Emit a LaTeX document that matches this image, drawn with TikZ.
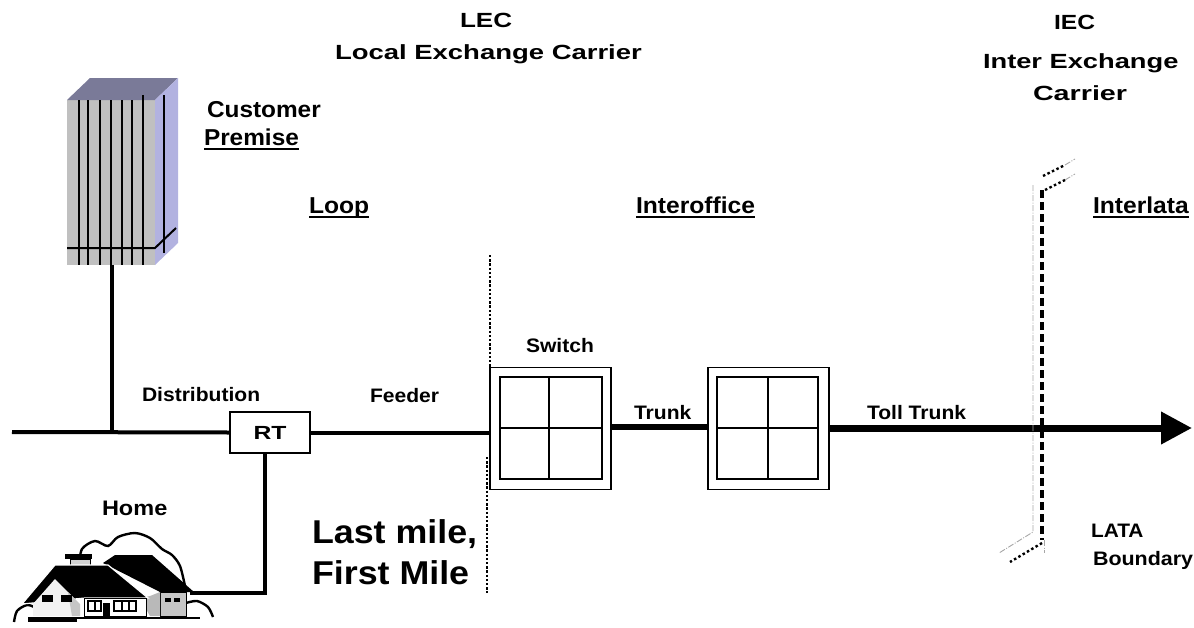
\documentclass[tikz,border=0pt]{standalone}
\usepackage{fontspec}
\setmainfont{Liberation Sans}
\usepackage{graphicx}
\usetikzlibrary{arrows.meta}
\definecolor{frontgray}{RGB}{192,192,192}
\definecolor{topcol}{RGB}{122,122,152}
\definecolor{sidecol}{RGB}{178,178,224}
\newcommand{\mytext}[3]{\scalebox{#2}[1]{\fontsize{#1}{#1}\selectfont\bfseries #3}}
\begin{document}
\begin{tikzpicture}[x=1pt,y=-1pt,
  lbl/.style={inner sep=0pt, outer sep=0pt, anchor=base west},
  wire/.style={line width=4pt},
  trunkline/.style={line width=6pt},
  switchbox/.style={draw, line width=1.6pt, minimum width=121pt, minimum height=122pt, inner sep=0pt, outer sep=0pt},
  rtbox/.style={draw, line width=1.4pt, minimum width=80pt, minimum height=41pt, inner sep=0pt, outer sep=0pt},
  inner/.style={line width=2.2pt},
  uline/.style={line width=2pt},
  dotline/.style={line width=2.6pt, dash pattern=on 2.4pt off 1.8pt},
  bounddash/.style={line width=3.6pt, dash pattern=on 8pt off 4pt},
  bounddot/.style={line width=2.4pt, dash pattern=on 2.5pt off 2.5pt},
  boundgrey/.style={line width=0.9pt, gray!70, dash pattern=on 6pt off 1.5pt on 1pt off 1.5pt},
  bldline/.style={line width=2pt},
  houseline/.style={line width=2.4pt}
]
\useasboundingbox (0,0) rectangle (1194,627);

% ---------- Customer building ----------
\fill[frontgray] (67,100) rectangle (155,265);
\fill[topcol] (67,100) -- (90,78) -- (178,78) -- (155,100) -- cycle;
\fill[sidecol] (155,100) -- (178,78) -- (178,243) -- (155,265) -- cycle;
\foreach \xx in {79,88,100,111,122,132} {\draw[bldline] (\xx,100) -- (\xx,265);}
\draw[bldline] (143,95) -- (143,265);
\draw[bldline] (164,95) -- (164,253);
\draw[bldline] (67,248) -- (155,248) -- (176,228);
\coordinate (bldg) at (112,265);

% ---------- main line ----------
\coordinate (mainL) at (12,432);
\coordinate (junc) at (112,432);
\node[rtbox] (rt) at (270,432.5) {\mytext{19}{1.3}{RT}};
\node[switchbox] (sw1) at (550.5,428.5) {};
\node[switchbox] (sw2) at (768.5,428.5) {};
\coordinate (tip) at (1192,428);
\coordinate (rtdown) at (265,593);
\coordinate (homeconn) at (190,593);

\draw[wire] (mainL) -- (rt.west);
\draw[wire] (bldg) -- (junc);
\draw[wire] (rt.east |- 0,433) -- (sw1.west |- 0,433);
\draw[wire] (rt.south -| rtdown) -- (rtdown) -- (homeconn);
\draw[trunkline] (sw1.east |- 0,427) -- (sw2.west |- 0,427);
\draw[line width=7pt, -{Triangle[length=31pt,width=31pt]}] (sw2.east |- tip) -- (tip);

% switch inner grids
\draw[inner] (500,377) rectangle (602,479);
\draw[inner] (549,377) -- (549,479);
\draw[inner] (500,428) -- (602,428);
\draw[inner] (717,377) rectangle (818,479);
\draw[inner] (768,377) -- (768,479);
\draw[inner] (717,428) -- (818,428);

% ---------- dotted boundary near switch ----------
\draw[dotline] (490,255) -- (490,395);
\draw[dotline] (487,457) -- (487,593);

% ---------- LATA boundary ----------
\draw[boundgrey] (1033,185) -- (1033,532) -- (999,553);
\draw[boundgrey] (1044,540) -- (1044,553);
\draw[bounddash] (1042,190) -- (1042,540);
\draw[bounddot] (1042,543) -- (1010,562);
\draw[bounddot] (1045,190) -- (1065,180);
\draw[boundgrey] (1065,180) -- (1075,174);
\draw[bounddot] (1043,176) -- (1065,165);
\draw[boundgrey] (1065,165) -- (1075,159);

% ---------- House ----------
\draw[houseline] plot[smooth] coordinates {(79,566) (82,549) (95,541) (108,546) (118,537) (135,533) (150,538) (162,549) (172,555) (180,566) (185,586)};
\draw[houseline] plot[smooth] coordinates {(14,622) (17,611) (27,605) (36,608) (40,612)};
\draw[houseline] plot[smooth] coordinates {(186,603) (197,601) (208,607) (213,617)};
\fill[black] (65,554) rectangle (92,559);
\filldraw[fill=gray!35, draw=black, line width=1pt] (70,559) rectangle (90,570);
% right wing roof
\fill[black] (103,563) -- (115,555) -- (152,555) -- (194,592) -- (160,592) -- cycle;
% right wall
\filldraw[fill=gray!45, draw=black, line width=1pt] (160,592) rectangle (186,616);
\fill[black] (165,598) rectangle (171,602);
\fill[black] (174,598) rectangle (180,602);
% grey gable piece
\fill[gray!55] (140,598) -- (150,596) -- (160,592) -- (160,616) -- (150,616) -- cycle;
% main roof
\filldraw[fill=black, draw=white, line width=1.2pt] (22,604) -- (55,565) -- (108,565) -- (148,598) -- (85,598) -- cycle;
% left gable wall
\fill[gray!10] (33,604) -- (55,579) -- (80,604) -- (80,616) -- (33,616) -- cycle;
\fill[gray!45] (68,592) -- (80,604) -- (80,616) -- (72,616) -- cycle;
\fill[black] (42,595) rectangle (53,602);
\fill[black] (61,595) rectangle (72,602);
% center wall
\filldraw[fill=white, draw=black, line width=1pt] (84,598) rectangle (146,616);
\draw[line width=1.8pt] (88,601) rectangle (101,611);
\draw[line width=1.5pt] (95,601) -- (95,611);
\fill[black] (103,603) rectangle (110,616);
\draw[line width=1.8pt] (114,601) rectangle (136,611);
\draw[line width=1.5pt] (122,601) -- (122,611);
\draw[line width=1.5pt] (129,601) -- (129,611);
% ground
\draw[line width=2pt] (28,618) -- (200,618);
\fill[black] (28,617) rectangle (77,622);

% ---------- Labels ----------
\node[lbl] (lec) at (460,27) {\mytext{20.5}{1.27}{LEC}};
\node[lbl] (lecfull) at (335,59) {\mytext{20.5}{1.34}{Local Exchange Carrier}};
\node[lbl] (iec) at (1054,29) {\mytext{20.5}{1.2}{IEC}};
\node[lbl] (iecfull1) at (983,68) {\mytext{20.5}{1.33}{Inter Exchange}};
\node[lbl] (iecfull2) at (1033,100) {\mytext{20.5}{1.4}{Carrier}};
\node[lbl] (cust) at (207,117) {\mytext{23}{1.06}{Customer}};
\node[lbl] (prem) at (204,145) {\mytext{23}{1.06}{Premise}};
\node[lbl] (loop) at (309,213) {\mytext{23}{1.07}{Loop}};
\node[lbl] (interoff) at (636,213) {\mytext{23}{1.07}{Interoffice}};
\node[lbl] (interlata) at (1093,213) {\mytext{23}{1.07}{Interlata}};
\draw[uline] ([yshift=-4.3pt]prem.base west) -- ([yshift=-4.3pt]prem.base east);
\draw[uline] ([yshift=-4.3pt]loop.base west) -- ([yshift=-4.3pt]loop.base east);
\draw[uline] ([yshift=-4.3pt]interoff.base west) -- ([yshift=-4.3pt]interoff.base east);
\draw[uline] ([yshift=-4.3pt]interlata.base west) -- ([yshift=-4.3pt]interlata.base east);
\node[lbl] (switchlbl) at (526,352) {\mytext{19.5}{1.08}{Switch}};
\node[lbl] (distr) at (142,401) {\mytext{19.5}{1.08}{Distribution}};
\node[lbl] (feeder) at (370,402) {\mytext{19.5}{1.08}{Feeder}};
\node[lbl] (trunk) at (634,419) {\mytext{19.5}{1.08}{Trunk}};
\node[lbl] (toll) at (867,419) {\mytext{19.5}{1.08}{Toll Trunk}};
\node[lbl] (home) at (102,515) {\mytext{21}{1.12}{Home}};
\node[lbl] (last) at (312,543) {\mytext{33}{1.085}{Last mile,}};
\node[lbl] (first) at (312,584) {\mytext{33}{1.085}{First Mile}};
\node[lbl] (lata) at (1091,537) {\mytext{19.5}{1.07}{LATA}};
\node[lbl] (bound) at (1093,565) {\mytext{19.5}{1.1}{Boundary}};
\end{tikzpicture}
\end{document}
